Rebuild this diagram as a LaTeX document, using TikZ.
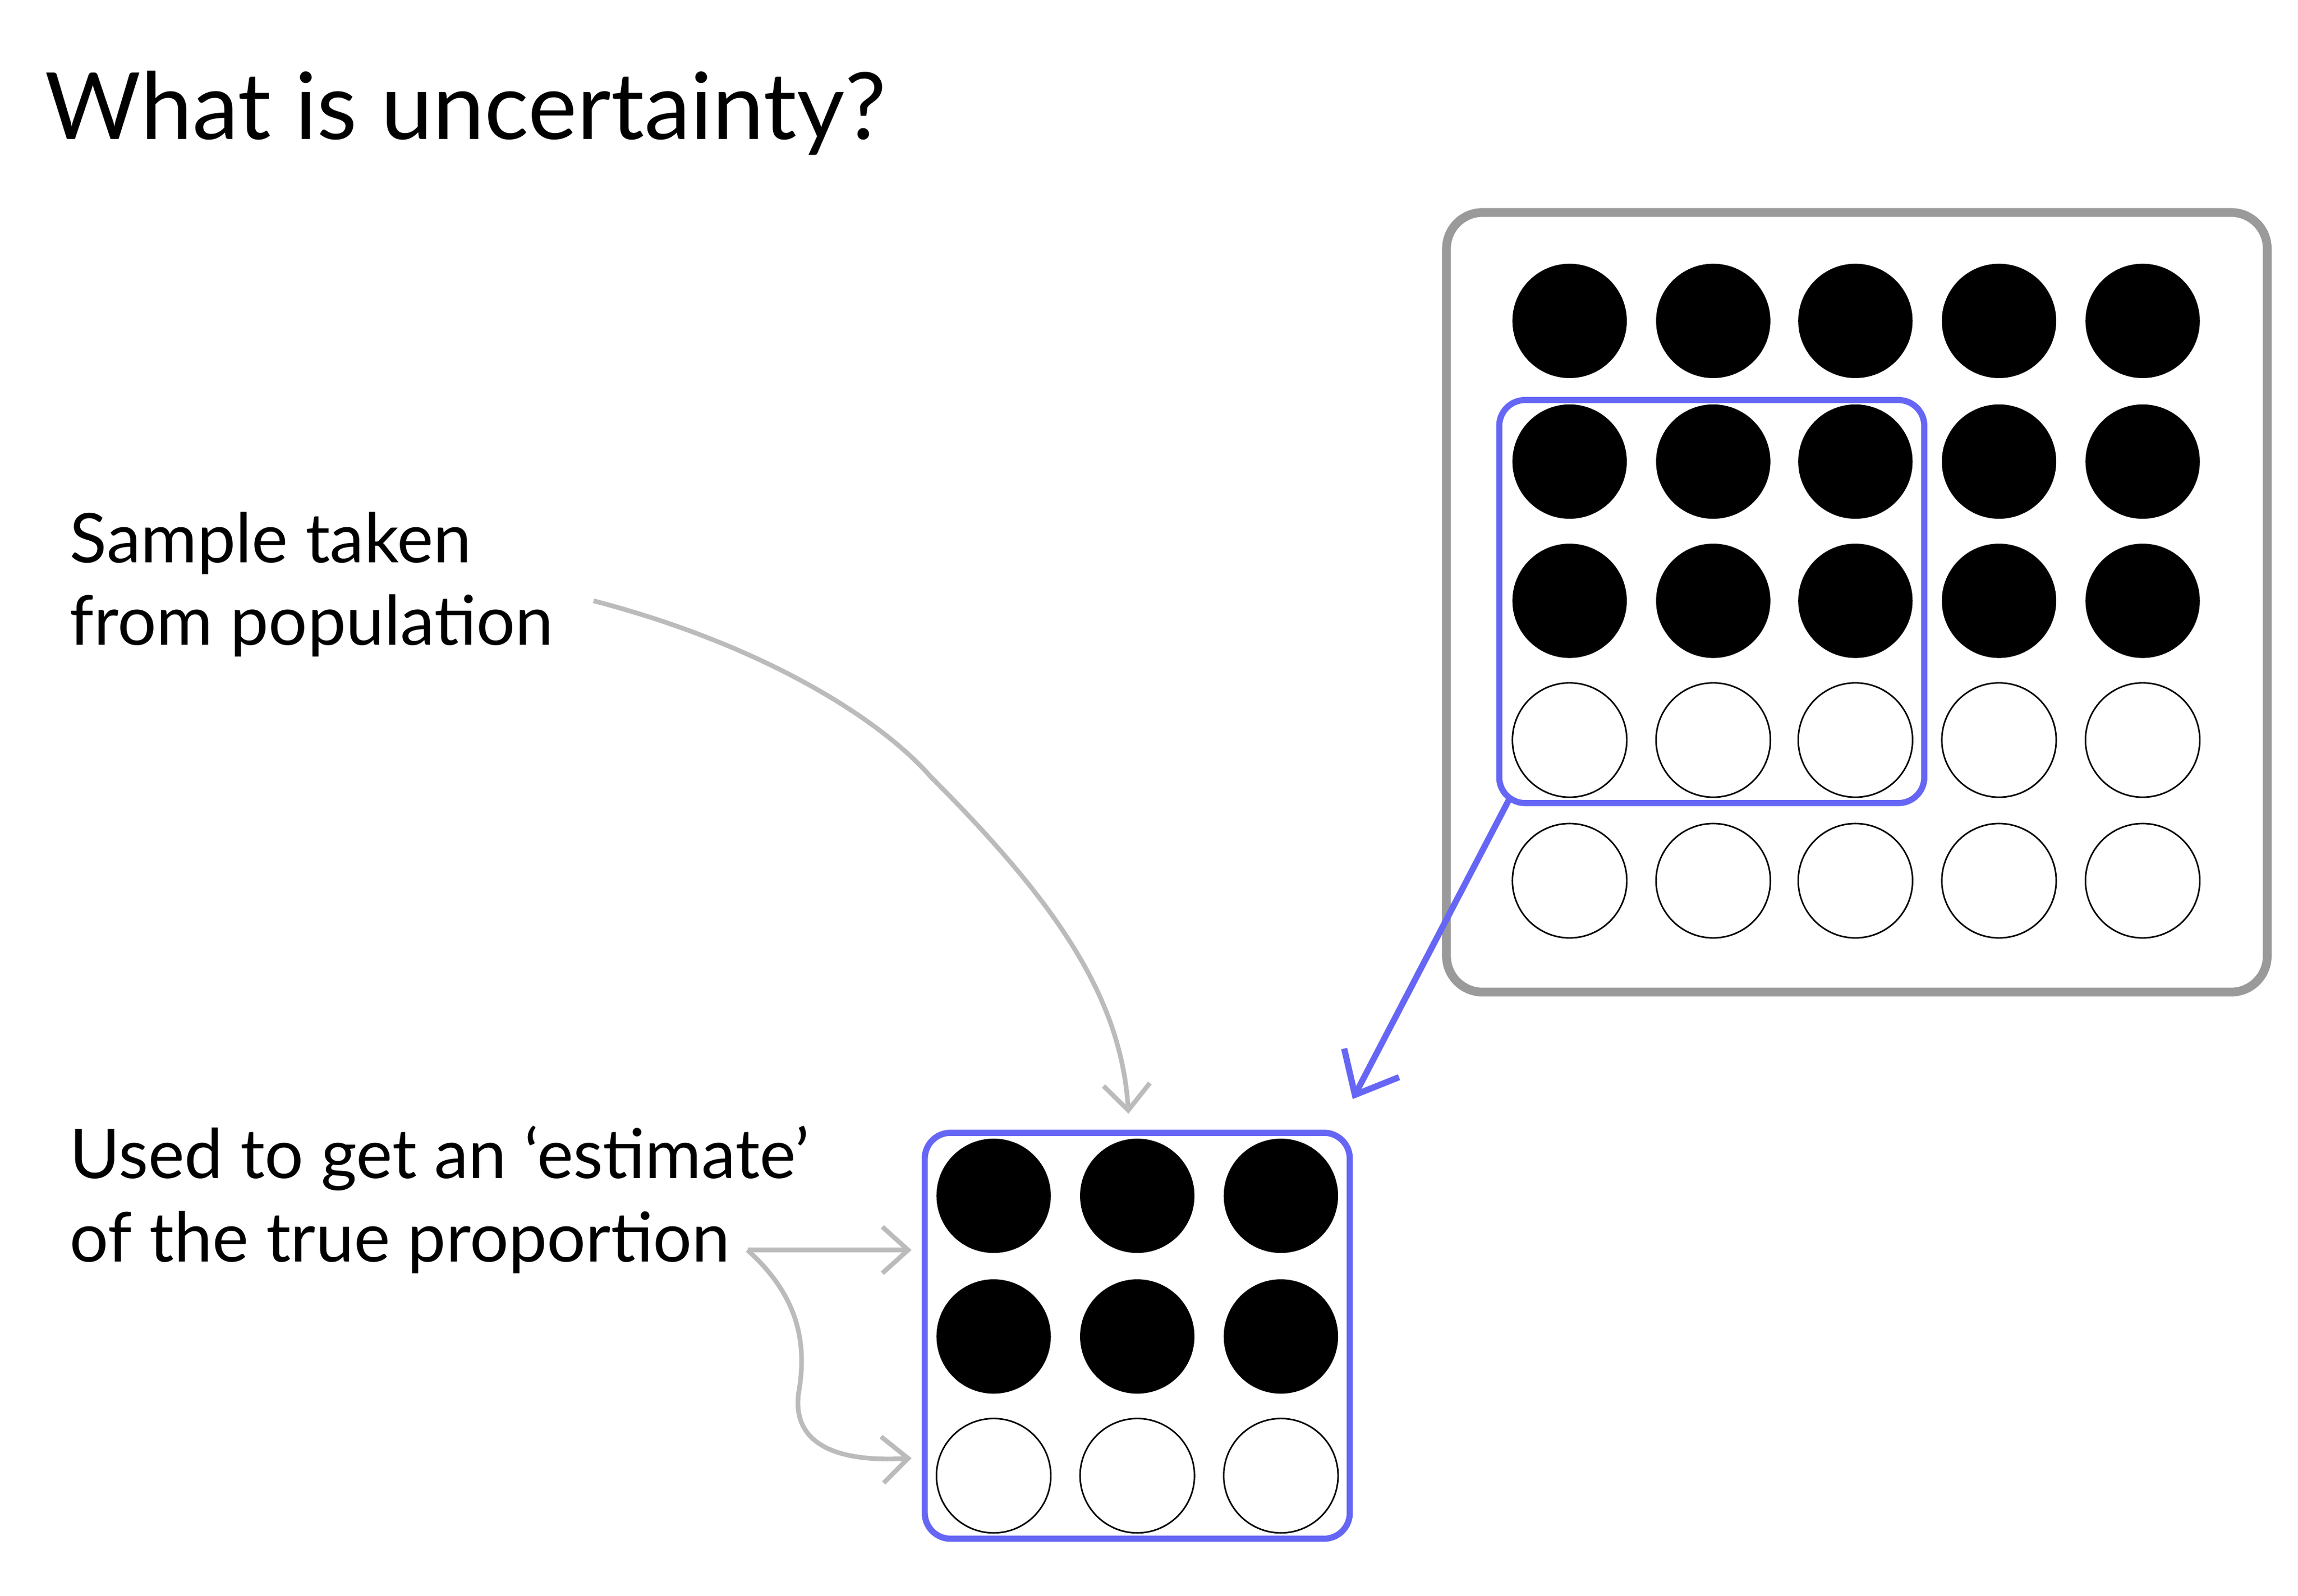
\documentclass[tikz,border=0pt]{standalone}
\usepackage{fontspec}
\setmainfont{Lato}
\usetikzlibrary{arrows.meta}
\definecolor{bl}{HTML}{6666F5}
\definecolor{gr}{HTML}{9A9A9A}
\definecolor{lg}{HTML}{BBBBBB}
\tikzset{
 full/.style={circle,fill=black,minimum size=0.78cm,inner sep=0},
 empty/.style={circle,draw=black,line width=0.3pt,minimum size=0.78cm,inner sep=0},
 lbl/.style={anchor=base west,font=\fontsize{13.3}{16}\selectfont,inner sep=0},
 gar/.style={lg,line width=0.9pt,-{Straight Barb[length=5pt,width=9pt]}},
}
\begin{document}
\begin{tikzpicture}[x=0.01cm,y=-0.01cm]
\useasboundingbox (0,0) rectangle (1568,1089);
\node[lbl,font=\fontsize{18}{22}\selectfont] (t) at (30,95) {What is uncertainty?};
\node[lbl] (s1) at (47,384) {Sample taken};
\node[lbl] (s2) at (47,440) {from population};
\node[lbl] (u1) at (47,804) {Used to get an ‘estimate’};
\node[lbl] (u2) at (47,861) {of the true proportion};
\draw[gr,line width=1.7pt,rounded corners=7] (987,145) rectangle (1547,677);
\foreach \x [count=\i] in {1071,1169,1266,1364,1462}{
 \foreach \y [count=\j] in {219,315,410}{\node[full] (p\i\j) at (\x,\y) {};}
 \foreach \y [count=\j from 4] in {505,601}{\node[empty] (p\i\j) at (\x,\y) {};}
}
\draw[bl,line width=1.2pt,rounded corners=5] (1023,273) rectangle (1313,548);
\coordinate (bs) at (1030,545);
\draw[bl,line width=1.2pt,rounded corners=5] (631,773) rectangle (921,1050);
\foreach \x [count=\i] in {678,776,874}{
 \foreach \y [count=\j] in {816,912}{\node[full] (q\i\j) at (\x,\y) {};}
 \node[empty] (q\i3) at (\x,1007) {};
}
\coordinate (be) at (923,750);
\draw[bl,line width=1.2pt,-{Straight Barb[length=7pt,width=12pt]}] (bs) -- (be);
\coordinate (ga) at (405,410);
\coordinate (gb) at (770,760);
\draw[gar] (ga) .. controls (520,440) and (600,490) .. (635,530) .. controls (720,615) and (765,680) .. (gb);
\coordinate (c0) at (510,853);
\coordinate (c1) at (622,853);
\coordinate (c2) at (622,995);
\draw[gar] (c0) -- (c1);
\draw[gar] (c0) .. controls (540,880) and (552,910) .. (545,950) .. controls (540,985) and (570,998) .. (c2);
\end{tikzpicture}
\end{document}
